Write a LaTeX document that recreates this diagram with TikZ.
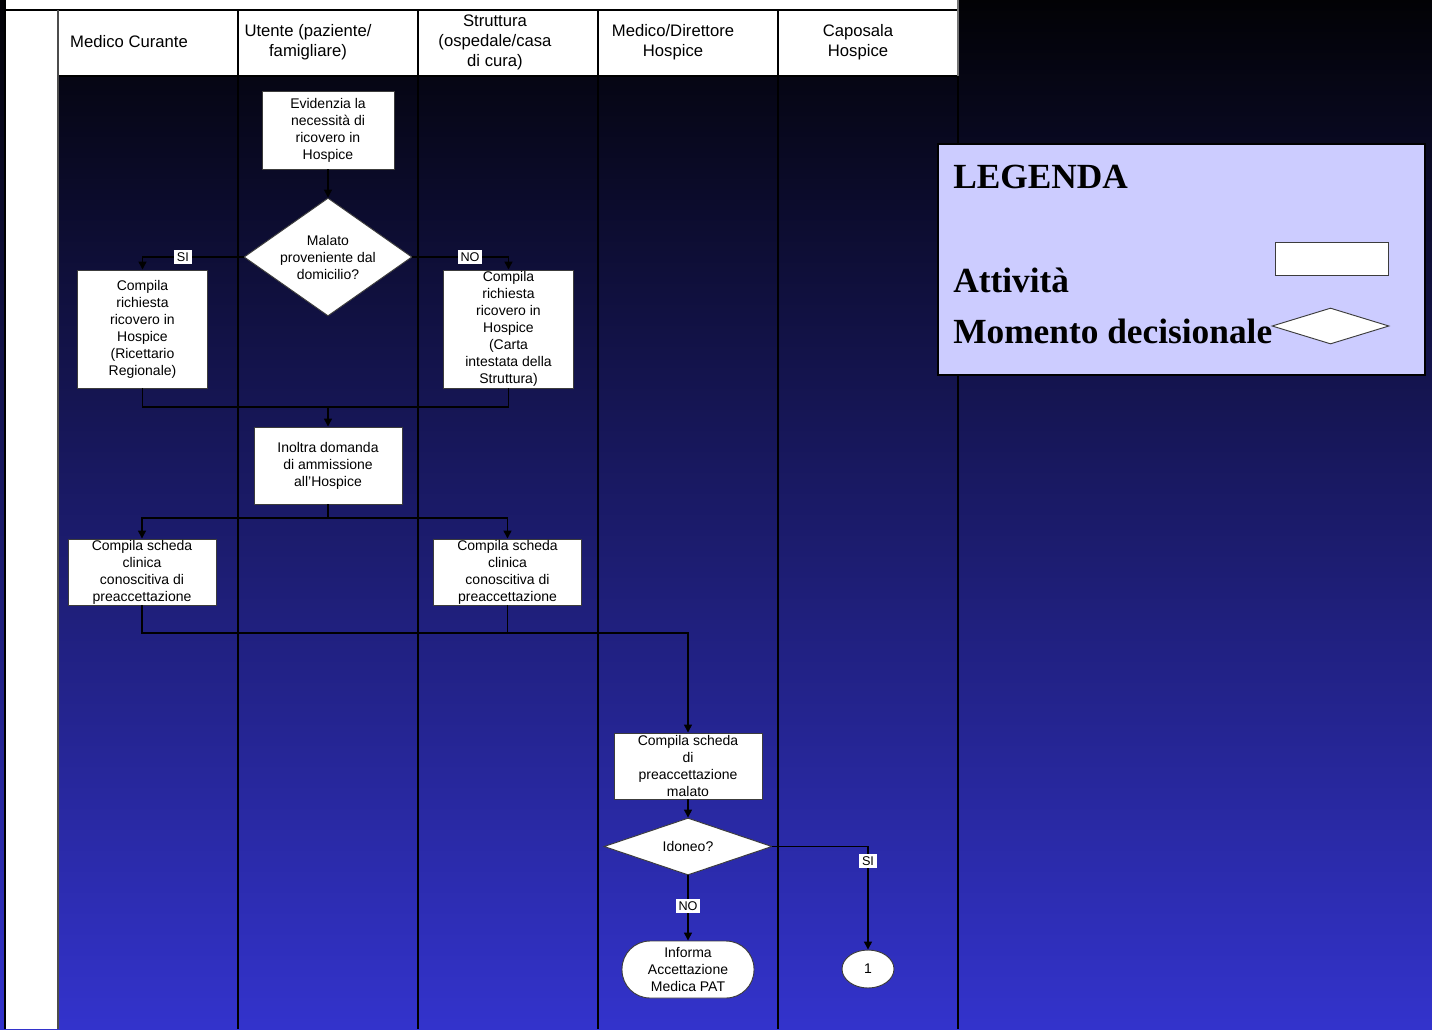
\documentclass[tikz,border=0pt]{standalone}
\usepackage{fontspec}
\setmainfont{Liberation Sans}
\newfontfamily\legfont{Liberation Serif}
\usetikzlibrary{arrows.meta,shapes.geometric}
\definecolor{bgtop}{HTML}{020205}
\definecolor{bgbot}{HTML}{3333CC}
\definecolor{legfill}{HTML}{CCCCFF}
\definecolor{edge}{HTML}{3C3C3C}
\tikzset{
  every node/.style={text=black},
  % activity box; decisions reuse it as a diamond
  act/.style={draw=edge, fill=white, line width=0.7pt, align=center, inner xsep=1pt, inner ysep=0pt,
              font=\fontsize{10.5}{12.75}\selectfont},
  dec/.style={act, diamond, inner sep=0pt},
  hdr/.style={align=center, font=\fontsize{12.5}{15}\selectfont},
  lbl/.style={fill=white, inner xsep=2pt, inner ysep=2.2pt, font=\fontsize{9.5}{10}\selectfont},
  lane/.style={line width=1.4pt, color=black},
  conn/.style={line width=1pt, color=black},
  arr/.style={conn, -{Triangle[length=6pt,width=6pt]}},
  leg/.style={anchor=base west, inner sep=0pt, font=\legfont\bfseries\fontsize{26.5}{30}\selectfont},
}

\begin{document}
\begin{tikzpicture}[x=0.75pt,y=-0.75pt]
  \useasboundingbox (0,0) rectangle (1432,1029);
  \shade[top color=bgtop, bottom color=bgbot] (0,0) rectangle (1432,1029);

  % swimlane table
  \fill[white] (5,0) rectangle (958,10);
  \fill[white] (5,10) rectangle (58,1029);
  \fill[white] (58,10) rectangle (958,76);
  \draw[lane, line width=2.2pt] (5,0) -- (5,1029);
  \draw[lane, line width=1pt] (5,10) -- (958,10);
  \draw[lane, line width=1pt] (58,76) -- (958,76);
  \draw[lane, color=black!70, line width=1pt] (58,10) -- (58,1029);
  \foreach \x in {238,418,598,778} \draw[lane] (\x,10) -- (\x,1029);
  \draw[lane, color=black!55] (958,0) -- (958,76);
  \draw[lane] (958,76) -- (958,1029);

  \node[hdr] (medcur) at (129,42) {Medico Curante};
  \node[hdr] (utente) at (308,42) {Utente (paziente/\\famigliare)};
  \node[hdr] (strutt) at (495,42) {Struttura\\(ospedale/casa\\di cura)};
  \node[hdr] (dirhos) at (673,42) {Medico/Direttore\\Hospice};
  \node[hdr] (capos)  at (858,42) {Caposala\\Hospice};

  % flow
  \node[act, minimum width=99pt, minimum height=58.5pt] (evid) at (328,130)
        {Evidenzia la\\necessità di\\ricovero in\\Hospice};
  \node[dec, minimum width=126pt, minimum height=88.5pt, aspect=1.42] (malato) at (328,257)
        {Malato\\proveniente dal\\domicilio?};
  \node[act, minimum width=98pt, minimum height=88.5pt] (ricL) at (142.5,329)
        {Compila\\richiesta\\ricovero in\\Hospice\\(Ricettario\\Regionale)};
  \node[act, minimum width=98pt, minimum height=88.5pt] (ricR) at (508.5,329)
        {Compila\\richiesta\\ricovero in\\Hospice\\(Carta\\intestata della\\Struttura)};
  \node[act, minimum width=111pt, minimum height=57.75pt] (inoltra) at (328,465.5)
        {Inoltra domanda\\di ammissione\\all'Hospice};
  \node[act, minimum width=111pt, minimum height=49.5pt] (schL) at (142,572)
        {Compila scheda\\clinica\\conoscitiva di\\preaccettazione};
  \node[act, minimum width=111pt, minimum height=49.5pt] (schR) at (507.5,572)
        {Compila scheda\\clinica\\conoscitiva di\\preaccettazione};
  \node[act, minimum width=111pt, minimum height=49.5pt] (medico) at (688,766)
        {Compila scheda\\di\\preaccettazione\\malato};
  \node[dec, minimum width=126pt, minimum height=42.75pt, aspect=2.95] (idoneo) at (688,846.5) {Idoneo?};
  \node[act, rounded corners=21pt, minimum width=99pt, minimum height=42.75pt] (informa) at (688,969.5)
        {Informa\\Accettazione\\Medica PAT};
  \node[act, ellipse, minimum width=39pt, minimum height=28.5pt] (uno) at (868,969) {1};

  \draw[arr] (evid) -- (malato);
  \draw[arr] (malato.west) -| (ricL.north) node[lbl, pos=0.3] {SI};
  \draw[arr] (malato.east) -| (ricR.north) node[lbl, pos=0.3] {NO};
  \coordinate (j1) at (328,407);
  \draw[conn] (ricL.south) |- (j1) -| (ricR.south);
  \draw[arr] (j1) -- (inoltra);
  \coordinate (j2) at (328,518);
  \draw[conn] (inoltra) -- (j2);
  \draw[arr] (j2) -| (schL.north);
  \draw[arr] (j2) -| (schR.north);
  \coordinate (j3) at (688,633);
  \draw[arr] (schL.south) |- (j3) -- (medico.north);
  \draw[conn] (schR.south) -- (schR.south |- j3);
  \draw[arr] (medico) -- (idoneo);
  \draw[arr] (idoneo.east) -| (uno.north) node[lbl, pos=0.57] {SI};
  \draw[arr] (idoneo.south) -- (informa.north) node[lbl, pos=0.47] {NO};

  % legend
  \node[draw=black, fill=legfill, line width=0.8pt, minimum width=365.25pt, minimum height=173.25pt,
        inner sep=0pt] (legenda) at (1181.5,259.5) {};
  \node[leg] (legtit) at (953,188) {LEGENDA};
  \node[leg] (legatt) at (953,292) {Attività};
  \node[leg] (legmom) at (953,343) {Momento decisionale};
  \node[act, minimum width=84.75pt, minimum height=24.75pt] (legbox) at (1331.5,258.5) {};
  \node[dec, minimum width=87.75pt, minimum height=27pt, aspect=3.2] (legdia) at (1330.5,326) {};
\end{tikzpicture}
\end{document}
